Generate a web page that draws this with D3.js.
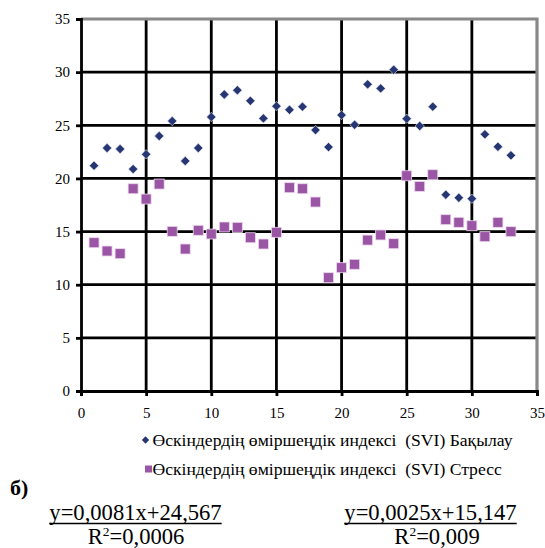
<!DOCTYPE html>
<html>
<head>
<meta charset="utf-8">
<script src="https://cdn.jsdelivr.net/npm/d3@7"></script>
<style>
body { margin: 0; background: #fff; }
</style>
</head>
<body>
<div class="graph"></div>
<script>
// data
var days = d3.range(1, 34)
var control = [21.2, 22.86, 22.77, 20.88, 22.27, 23.99, 25.4, 21.64, 22.86, 25.78,
    27.9, 28.3, 27.3, 25.65, 26.8, 26.46, 26.75, 24.55, 22.95, 25.96,
    25.05, 28.85, 28.47, 30.23, 25.62, 24.93, 26.75, 18.47, 18.18, 18.09,
    24.15, 22.98, 22.17]
var stress = [13.95, 13.17, 12.92, 19.03, 18.06, 19.47, 15.02, 13.36, 15.12, 14.77,
    15.43, 15.4, 14.42, 13.83, 14.93, 19.13, 19.03, 17.78, 10.66, 11.6,
    11.92, 14.2, 14.68, 13.86, 20.25, 19.25, 20.35, 16.12, 15.87, 15.55,
    14.52, 15.87, 14.99]
var xTicks = [0, 5, 10, 15, 20, 25, 30, 35]
var yTicks = [0, 5, 10, 15, 20, 25, 30, 35]
var seriesNames = ['Өскіндердің өміршеңдік индексі  (SVI) Бақылау',
                   'Өскіндердің өміршеңдік индексі  (SVI) Стресс']
var equations = [['y=0,0081x+24,567', '0,0006'], ['y=0,0025x+15,147', '0,009']]

var blue = '#263673', purple = '#9b55a5'
var serif = 'Liberation Serif'

var svg = d3.select('.graph')
    .append('svg')
    .attr('width', 545)
    .attr('height', 548)
    .attr('font-family', serif)

var margin = {top: 19, left: 81}
var width = 456, height = 372

var x = d3.scaleLinear().domain([0, 35]).range([0, width])
var y = d3.scaleLinear().domain([0, 35]).range([height, 0])

var canvas = svg.append('g')
    .attr('transform', 'translate(' + margin.left + ',' + margin.top + ')')

// grid
canvas.selectAll('.vgrid')
    .data(xTicks.slice(1, -1))
    .enter().append('line')
    .attr('x1', d => x(d)).attr('x2', d => x(d))
    .attr('y1', 0).attr('y2', height)
    .attr('stroke', '#000').attr('stroke-width', 2.8)
canvas.selectAll('.hgrid')
    .data(yTicks.slice(1, -1))
    .enter().append('line')
    .attr('x1', 0).attr('x2', width)
    .attr('y1', d => y(d)).attr('y2', d => y(d))
    .attr('stroke', '#000').attr('stroke-width', 2.8)

// top/right border in grey
canvas.append('path')
    .attr('d', `M0,${y(35)} H${x(35)} V${y(0)}`)
    .attr('fill', 'none').attr('stroke', '#888').attr('stroke-width', 3.2)

// axes
var xAxis = canvas.append('g')
    .attr('transform', 'translate(0,' + height + ')')
    .call(d3.axisBottom(x).tickValues(xTicks).tickSize(5).tickPadding(11))
var yAxis = canvas.append('g')
    .call(d3.axisLeft(y).tickValues(yTicks).tickSize(5).tickPadding(6))
;[xAxis, yAxis].forEach(function(a) {
    a.attr('font-family', serif).attr('font-size', 15)
    a.select('.domain').attr('stroke', '#000').attr('stroke-width', 2.8)
    a.selectAll('.tick line').attr('stroke', '#000').attr('stroke-width', 2.8)
    a.selectAll('text').attr('fill', '#000')
})

// points
var diamond = d3.symbol().type(d3.symbolDiamond2).size(56)
canvas.selectAll('.ctl')
    .data(days)
    .enter().append('path')
    .attr('d', diamond)
    .attr('transform', (d, i) => 'translate(' + x(d) + ',' + y(control[i]) + ')')
    .attr('fill', blue)
    .attr('stroke', '#e8e8f4').attr('stroke-width', 0.6)

canvas.selectAll('.str')
    .data(days)
    .enter().append('rect')
    .attr('x', d => x(d) - 5)
    .attr('y', (d, i) => y(stress[i]) - 5)
    .attr('width', 10).attr('height', 10)
    .attr('fill', purple)
    .attr('stroke', '#ecd8ef').attr('stroke-width', 0.8)

// legend
var legend = svg.append('g')
var lg = [{y: 440, sym: 'diamond'}, {y: 469, sym: 'square'}]
lg.forEach(function(l, i) {
    if (l.sym === 'diamond') {
        legend.append('path')
            .attr('d', d3.symbol().type(d3.symbolDiamond2).size(34))
            .attr('transform', 'translate(145.5,' + l.y + ')')
            .attr('fill', blue)
    } else {
        legend.append('rect')
            .attr('x', 145).attr('y', l.y - 3.5)
            .attr('width', 7).attr('height', 7)
            .attr('fill', purple)
    }
    legend.append('text')
        .attr('x', 152.5).attr('y', l.y + 5.5)
        .attr('font-family', serif)
        .attr('font-size', 17.6)
        .attr('xml:space', 'preserve')
        .style('white-space', 'pre')
        .text(seriesNames[i])
})

svg.append('text')
    .attr('x', 10).attr('y', 495)
    .attr('font-family', serif)
    .attr('font-size', 22).attr('font-weight', 'bold')
    .text('б)')

var eqX = [135.5, 430.5], rX = [136, 437]
equations.forEach(function(e, i) {
    var t = svg.append('text')
        .attr('x', eqX[i]).attr('y', 520)
        .attr('text-anchor', 'middle')
        .attr('font-family', serif)
        .attr('font-size', 22.6)
        .text(e[0])
    var w = t.node().getComputedTextLength()
    svg.append('line')
        .attr('x1', eqX[i] - w / 2).attr('x2', eqX[i] + w / 2)
        .attr('y1', 523.5).attr('y2', 523.5)
        .attr('stroke', '#000').attr('stroke-width', 1.4)
    var r = svg.append('text')
        .attr('x', rX[i]).attr('y', 544)
        .attr('text-anchor', 'middle')
        .attr('font-family', serif)
        .attr('font-size', 22.6)
    r.append('tspan').text('R')
    r.append('tspan').attr('dy', -8).attr('font-size', 13.5).text('2')
    r.append('tspan').attr('dy', 8).text('=' + e[1])
})
</script>
</body>
</html>
